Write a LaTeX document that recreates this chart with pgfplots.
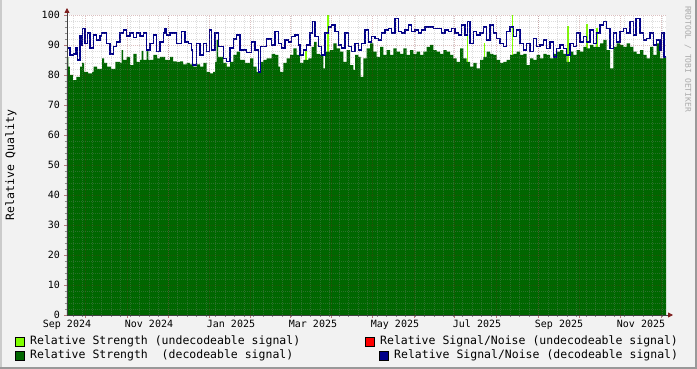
\documentclass[border=0pt]{standalone}
\usepackage{pgfplots}
\pgfplotsset{compat=1.18}
\usepackage{fontspec}
\setmainfont{DejaVu Sans Mono}
\usetikzlibrary{arrows.meta}
\definecolor{bgc}{HTML}{F2F2F2}
\definecolor{shadeA}{HTML}{CBCBCB}
\definecolor{shadeB}{HTML}{999999}
\definecolor{dgreen}{HTML}{006600}
\definecolor{lgreen}{HTML}{80FF00}
\definecolor{sblue}{HTML}{000088}
\definecolor{sred}{HTML}{FF0000}
\definecolor{arrowc}{HTML}{7F1F1F}
\definecolor{mgridc}{HTML}{821E1E}
\definecolor{gridc}{HTML}{8C8C8C}
\newcommand\legfont{\fontsize{11.5}{13}\selectfont}
\newcommand\axfont{\fontsize{10}{12}\selectfont}
\begin{document}
\begin{tikzpicture}
\fill[bgc] (0pt,0pt) rectangle (697pt,369pt);
\fill[shadeB] (0pt,0pt) rectangle (697pt,2pt);
\fill[shadeB] (695pt,0pt) rectangle (697pt,369pt);
\fill[shadeA] (0pt,2pt) rectangle (2pt,369pt);
\path[use as bounding box] (0pt,0pt) rectangle (697pt,369pt);
\begin{axis}[
  at={(67pt,54pt)}, anchor=south west,
  scale only axis, width=599pt, height=300pt,
  xmin=0, xmax=599, ymin=0, ymax=100,
  axis background/.style={fill=white},
  axis on top,
  axis lines*=left,
  axis line style={draw=black!75, line width=0.8pt},
  x axis line style={-{Triangle[length=5pt,width=5pt,color=arrowc]}, shorten >=-7pt},
  y axis line style={-{Triangle[length=5pt,width=5pt,color=arrowc]}, shorten >=-7pt},
  ytick={0,10,...,100},
  minor y tick num=4,
  xtick={18,60,101,142,183,223,264,305,347,387,429,471,512,553,594},
  xticklabels={},
  minor xtick={6.1,15.6,...,599},
  grid=both,
  major grid style={draw=mgridc, opacity=0.28, dash pattern=on 1pt off 1pt, line width=0.6pt},
  minor grid style={draw=gridc, opacity=0.3, dash pattern=on 1pt off 1pt, line width=0.6pt},
  tick align=outside,
  major tick length=3pt, minor tick length=2pt,
  major tick style={draw=mgridc!60, line width=0.6pt},
  minor tick style={draw=gridc, line width=0.6pt},
  tick label style={font=\axfont, text=black, inner sep=1pt},
  yticklabel style={xshift=-3pt, text depth=0pt},
  /pgf/number format/assume math mode=true,
  extra x ticks={0,82,164,246,328,410,492,574},
  extra x tick labels={Sep 2024,Nov 2024,Jan 2025,Mar 2025,May 2025,Jul 2025,Sep 2025,Nov 2025},
  extra x tick style={grid=none, major tick length=0pt, xticklabel style={yshift=-4pt}},
  ylabel={Relative Quality},
  every axis y label/.style={at={(axis description cs:-0.0935,0.5)}, rotate=90, anchor=center, font=\legfont},
  clip=true,
]
% undecodeable strength spikes
\addplot[ycomb, draw=lgreen, line width=1.4pt, mark=none] coordinates {
(159.7,83.5)(239,88)(261,100)(400.5,94.4)(417.5,90.5)(445.5,100)(501,96.3)(520,97)(530,95.5)
};
% decodeable strength
\addplot[const plot, fill=dgreen, draw=none, mark=none] coordinates {
(0,86)(1.5,82.8)(3,80)(6,78.3)(9.5,79.4)(13,82.8)(15,84)(17,81)(21,80.5)(25,81)(26.7,82.8)(30,82)(35,85.5)(37,84)(40,82.8)(44,82)(48.3,84.4)(53,84)(54.7,88.3)(56,85)(59.7,86)(63,83.3)(66.3,87)(69.7,84.4)(73,85)(74.7,88)(76.3,85)(79.7,88)(81.3,85)(86.3,86.7)(90,85.5)(93,86)(98,85)(103,86)(106,84.5)(109.7,84.4)(113,84.5)(116,83.5)(119.7,84)(123,83.5)(126.3,82.8)(130,83.5)(133,82.8)(136.3,84)(139.7,81)(143,80.5)(146,81)(148,84.4)(149.7,91.7)(151,86)(153,86)(156.3,84)(159.7,82.8)(163,84.4)(166.3,86.7)(169.7,87.8)(173,85)(178,84)(183,85.5)(186.3,82.8)(189.7,81)(193,84.4)(196.3,85)(199.7,85.5)(204.7,87)(208,86.7)(211.3,82.8)(213,81)(216.3,84)(219.7,85.5)(223,86.7)(226.3,88.9)(229.7,86.7)(233,84)(236.3,85)(241.3,85.5)(244.7,89.4)(247,91)(249.7,87)(253,86.7)(256.3,82.2)(258,87.8)(263,88.3)(266.3,90.5)(269.7,88.9)(273,87.8)(276.3,84.4)(279.7,88.3)(283,83.3)(286.3,81.7)(288,86.7)(291.3,86)(293.7,79.4)(296.3,85.5)(299.7,88.9)(303,90.5)(306.3,87.8)(309.7,86)(313,89.4)(316.3,86.7)(319.7,88.3)(323,86.7)(326.3,88.9)(329.7,87.8)(333,87)(336.3,88.9)(339.7,86.7)(343,88.3)(346.3,87)(349.7,87.8)(353,86.7)(356.3,87.8)(359.7,89.4)(363,90)(366.3,88.3)(369.7,87.8)(373,87)(376.3,88.3)(379.7,87.8)(383,86.7)(386.3,85.5)(389.7,84.4)(393,88.9)(396.3,85.5)(399.7,84.4)(403,82.8)(406.3,84)(409.7,82.2)(413,85)(416.3,86)(419.7,87.8)(423,87)(426.3,86.7)(429.7,85)(433,84)(436.3,84.4)(439.7,85)(443,86.7)(446.3,87)(449.7,87.8)(453,86.7)(456.3,87)(459.7,83.3)(463,85.5)(466.3,85)(469.7,86.7)(473,85.5)(476.3,87)(479.7,86.7)(483,85.5)(486.3,87)(489.7,87.8)(493,88.3)(496.3,87)(499.7,84.4)(503,87.8)(506.3,86.7)(509.7,88.3)(513,87.8)(516.3,89.4)(519.7,88.9)(523,90)(526.3,89.4)(529.7,89.4)(533,90.5)(536.3,91.7)(539.7,88.3)(543,82.2)(546.3,89.4)(549.7,90.5)(553,90)(556.3,89.4)(559.7,90.5)(563,89.4)(566.3,87.8)(569.7,87)(573,88.3)(576.3,86.7)(579.7,85.5)(583,89.4)(586.3,86.7)(589.7,90.5)(593,85.5)(596.3,86)(599,86)
} \closedcycle;
% decodeable signal/noise
\addplot[const plot, draw=sblue, line width=1.3pt, mark=none] coordinates {
(0,92.8)(0.7,89)(3,86.7)(6.3,87)(9,89)(10.7,85)(13,93)(14.7,90)(15.7,95.5)(18,90.5)(20.3,94)(23,89)(26.3,93.3)(29.7,91.7)(33,93)(34.7,94)(39.7,90.5)(43,87)(46.3,89.5)(49.7,91)(53,94)(56.3,95)(59.7,93)(63,94)(66.3,92.5)(69.7,94)(73,93)(76.3,94)(79.7,88.3)(83,90.5)(86.3,93.3)(89.7,87.8)(93,91)(96.3,94)(98,95.5)(99.7,93.3)(103,94)(106.3,94)(109.7,90.5)(114.7,94.5)(118,91)(121.3,90.5)(124.7,88.3)(125.7,83.3)(129.7,90.5)(133,86.7)(136.3,90.5)(139.7,87.8)(142.3,95)(144.7,88.3)(148,94)(151.3,89.4)(156.3,85.5)(159.7,84.4)(163,89)(166.3,92)(169.7,93.3)(173,88.3)(179.7,87.5)(184.7,91)(188,88.3)(191.3,81)(193.7,89.4)(198,89.4)(199.7,92)(204.7,90)(208,94.4)(211.3,90.5)(214.7,89)(218,91.7)(221.3,91)(224.7,92.8)(228,93.3)(231.3,90)(233,86.7)(236.3,88.3)(239.7,90)(243,94)(245.7,97.8)(248,92.8)(251.3,89.4)(254.7,86.7)(258,94)(261.3,96)(264.7,96.7)(268,94.4)(271.3,90)(274.7,89)(278,94)(281.3,89.4)(284.7,87.8)(288,90.5)(291.3,88.3)(294.7,90.5)(298,95)(301.3,91)(304.7,92.8)(308,92.2)(311.3,91.7)(314.7,94)(318,95)(321.3,95.5)(324.7,94)(328,98.9)(331.3,94.4)(334.7,94)(338,95)(341.3,96.7)(344.7,94.4)(348,95)(351.3,94)(354.7,95)(358,96)(363,96)(366.3,95.5)(371.3,95.5)(374.7,94)(378,95)(381.3,94.4)(384.7,95.5)(388,94)(391.3,93.3)(394.7,96.7)(398,93.3)(400.3,97.8)(403,90.5)(406.3,94.4)(409.7,93.3)(413,94)(416.3,96)(419.7,91.7)(423,96.7)(426.3,94)(429.7,92.2)(433,90.5)(436.3,89.4)(439.7,94.4)(443,96)(446.3,92.8)(449.7,95)(453,90.5)(456.3,88.3)(459.7,90.5)(463,87.8)(466.3,92.2)(469.7,89.4)(473,90)(476.3,91.7)(479.7,88.9)(483,91)(486.3,86)(489.7,88.9)(493,90)(496.3,88.9)(499.7,86.7)(503,90.5)(506.3,89.4)(509.7,94)(513,91)(516.3,92.8)(519.7,91)(523,95)(526.3,90.5)(529.7,94)(533,96.7)(536.3,97.8)(539.7,95.5)(543,88.9)(546.3,94)(549.7,91)(553,94.4)(556.3,95.5)(559.7,94)(563,97.8)(566.3,93.3)(569,98.9)(573,94)(576.3,91.7)(579.7,92.2)(583,94)(586.3,90)(589.7,91.7)(593,88.3)(594.7,94)(597,86)(599,86)
};
\end{axis}
% legend
\filldraw[fill=lgreen, draw=black, line width=0.7pt] (15pt,23pt) rectangle (24pt,32pt);
\node[anchor=base west, inner sep=0pt, font=\legfont] at (30pt,24pt) {Relative Strength (undecodeable signal)};
\filldraw[fill=dgreen, draw=black, line width=0.7pt] (15pt,9pt) rectangle (24pt,18pt);
\node[anchor=base west, inner sep=0pt, font=\legfont] at (30pt,10pt) {Relative Strength\ \ (decodeable signal)};
\filldraw[fill=sred, draw=black, line width=0.7pt] (365pt,23pt) rectangle (374pt,32pt);
\node[anchor=base west, inner sep=0pt, font=\legfont] at (380pt,24pt) {Relative Signal/Noise (undecodeable signal)};
\filldraw[fill=sblue, draw=black, line width=0.7pt] (379pt,9pt) rectangle (388pt,18pt);
\node[anchor=base west, inner sep=0pt, font=\legfont] at (394pt,10pt) {Relative Signal/Noise (decodeable signal)};
% watermark
\node[rotate=-90, anchor=center, inner sep=0pt, text=black!33, font=\fontsize{8}{9}\selectfont] at (688pt,310pt) {RRDTOOL / TOBI OETIKER};
\end{tikzpicture}
\end{document}
